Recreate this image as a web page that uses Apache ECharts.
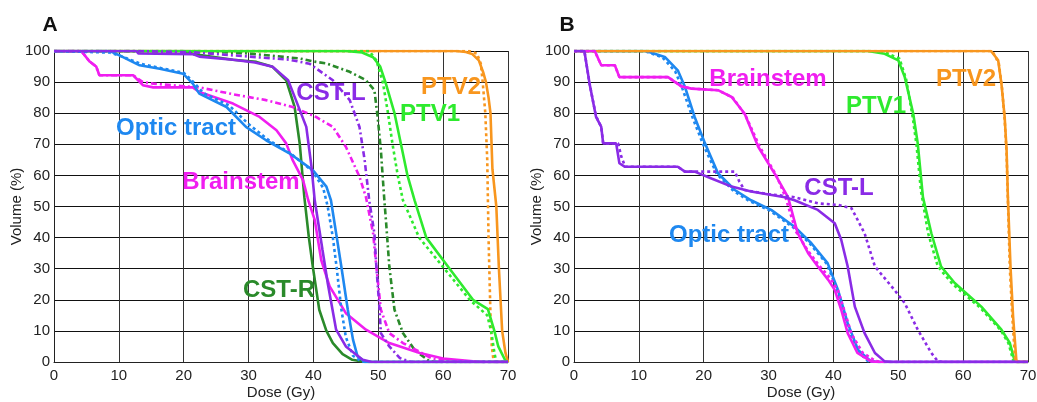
<!DOCTYPE html>
<html>
<head>
<meta charset="utf-8">
<script src="https://cdn.jsdelivr.net/npm/echarts@6/dist/echarts.min.js"></script>
<style>
  html, body { margin: 0; padding: 0; background: #fff; }
  #chart { width: 1037px; height: 402px; }
</style>
</head>
<body>
<div id="chart"></div>
<script>
// dose (Gy) / volume (%) pairs
const doseTicks = [0, 10, 20, 30, 40, 50, 60, 70]
const volumeTicks = [0, 10, 20, 30, 40, 50, 60, 70, 80, 90, 100]

// panel A
const aPtv2Solid = [[0,100],[62,100],[63.5,99.7],[64.5,99],[65.5,97],[66.2,93],[66.6,90],[67,85],[67.3,80],[67.6,62],[68.2,50],[68.6,30],[69.1,10],[69.6,3],[70,0]]
const aPtv2Dotted = [[0,100],[64,100],[65.2,99.2],[65.8,96],[66.1,90],[66.5,80],[66.8,65],[67,40],[67.3,15],[67.5,5],[67.8,0],[70,0]]
const aPtv1Solid = [[0,100],[45,100],[47.5,99.5],[49.2,98],[50.3,95],[51.1,90],[52.5,80],[53.5,70],[54.5,60],[55.6,52],[57.4,40],[61,30],[64.6,20],[66.9,17],[67.9,10],[68.5,5],[69.7,0],[70,0]]
const aPtv1Dotted = [[0,100],[48.6,100],[49.7,97],[50.7,90],[51.5,80],[52.2,70],[53,60],[53.8,52],[56.3,40],[60.2,30],[64.1,20],[66.8,15],[67.4,10],[67.9,3],[68.2,0],[70,0]]
const aCstrSolid = [[0,100],[20,100],[21.5,99],[27.6,97.2],[31.2,96.5],[33.7,94.9],[35.8,90.6],[37.1,82],[37.9,70],[38.6,53],[39.3,40],[39.9,30.7],[40.9,16.8],[42,10],[43,6.1],[44.5,2.5],[46,0.7],[48,0],[70,0]]
const aCstrDotted = [[0,100],[22,100],[30,99.2],[37.9,97.6],[40.4,96.5],[42,96],[45.6,93.3],[48.1,90.6],[49.4,87.4],[49.9,78.8],[50.4,68.1],[50.9,53],[51.2,45],[51.7,30.7],[52.5,16.8],[53.8,9.3],[55.6,3.9],[57.9,0.2],[59,0],[70,0]]
const aCstlSolid = [[0,100],[12.7,100],[13,99.2],[21.4,99],[22.4,98.2],[27.6,97.2],[31,96.3],[33.7,94.9],[36.1,90.6],[37.3,84.2],[38.9,75.6],[39.7,62.8],[40.2,52],[41.4,36],[42.2,25.4],[43.5,10.4],[45,5],[47.6,0.7],[49,0],[70,0]]
const aCstlDotted = [[0,100],[12.7,100],[13,99.6],[21.4,99.6],[27.6,98.6],[36.3,97.2],[39.4,95.9],[43,90.6],[45.6,84.2],[47.1,75.6],[47.9,64.9],[48.6,52],[49.4,41.4],[49.7,30.7],[50.2,16.8],[50.4,9.3],[51.7,5],[53.3,1.3],[55,0],[70,0]]
const aOpticSolid = [[0,100],[8.6,100],[10.1,98.6],[13.2,95.4],[16.3,94.3],[19.9,92.7],[21.4,89.5],[22.4,86.3],[26.6,82],[29.6,75.6],[32.7,71.3],[36.3,67.1],[39.9,61.7],[42,56.4],[42.7,52],[43.5,41.4],[44.3,30.7],[45.3,16.8],[46.1,7.2],[46.8,1.8],[48,0],[70,0]]
const aOpticDotted = [[0,100],[8.6,99.5],[10.5,98.2],[13.5,95.8],[16.5,94.5],[20,93],[21.6,89.8],[23,86.5],[27,82.5],[30,76.5],[33,71.5],[36.5,67],[39.8,61.5],[41.5,56],[42.2,50],[43,40],[43.6,30],[44.3,17],[45,8],[46.1,2],[47.5,0],[70,0]]
const aBrainSolid = [[0,100],[4.2,100],[5.5,96.6],[6.5,95],[7,92.2],[12.2,92.2],[13.7,89],[15.3,88.3],[21.4,88.3],[22.4,86.8],[27.6,83.1],[31.7,78.8],[34.3,74.5],[35.8,70.3],[36.8,64.9],[38.4,58.5],[39.2,52],[40.2,45.7],[41.2,32.8],[42.5,24.3],[45,15.7],[48.1,10.4],[51.7,6.1],[56.4,2.9],[60,1.1],[64.6,0.2],[66,0],[70,0]]
const aBrainDotted = [[0,100],[4.2,100],[5.5,96.6],[6.5,95],[7,92.2],[12.2,92.2],[13.7,90],[15.3,89.5],[22.4,88.3],[27.6,86.1],[32.7,84.2],[36.8,82],[40.4,78.8],[43,75.6],[45,69.2],[47.1,59.6],[48.1,53],[49.2,41.4],[49.7,30.7],[50.4,16.8],[51.7,9.3],[53.8,6.1],[55.8,3.9],[58.4,1],[62,0],[70,0]]

// panel B
const bPtv2Solid = [[0,100],[64.3,100],[65.4,97],[65.9,89.5],[66.4,78.8],[66.7,68.1],[66.9,53],[67.3,30.7],[67.7,14.6],[68.2,0.7],[68.4,0],[70,0]]
const bPtv2Dotted = [[0,100],[64.5,100],[65.5,96],[66,88],[66.4,78],[66.7,67],[66.9,52],[67.2,30],[67.6,14],[68,1],[68.2,0],[70,0]]
const bPtv1Solid = [[0,100],[45.3,100],[47.9,99.1],[50,97],[51,91.6],[52.3,79.9],[53,70.3],[53.8,53],[55.1,41.4],[56.6,30.7],[58.7,25.4],[62.8,17.8],[65.9,10.4],[67.2,6.1],[67.9,0.7],[68.2,0],[70,0]]
const bPtv1Dotted = [[0,100],[46,100],[48.3,99.3],[50.2,97.5],[51.2,91],[52.2,79],[52.8,70],[53.5,55],[54.6,41.4],[56.1,30.7],[58.4,25],[62.6,17.5],[65.8,10.2],[67,6],[67.7,0.7],[68,0],[70,0]]
const bBrainSolid = [[0,100],[3.2,100],[4.2,95.4],[6.3,95.4],[7,91.6],[14.5,91.6],[16.5,88.7],[18.1,87.9],[22.2,87.4],[24.3,85.2],[26.3,79.9],[28.4,69.2],[30.9,60.7],[33,53],[34.5,41.4],[36.1,35],[37.6,30.7],[39.2,26.4],[40.2,23.2],[41.2,16.8],[42.2,9.3],[43.7,2.9],[45.8,0.2],[47,0],[70,0]]
const bBrainDotted = [[0,100],[3.2,100],[4.2,95.4],[6.3,95.4],[7,91.6],[14.5,91.6],[16.5,88.7],[18.1,87.9],[22.2,87.4],[24.5,85],[26.5,79],[28.7,69],[31.2,60],[32.6,53],[34.2,42],[36,36],[37.8,31],[39.5,27],[40.7,23],[41.7,16.5],[42.8,9],[44.5,3],[46.5,0.3],[48,0],[70,0]]
const bOpticSolid = [[0,100],[11.1,100],[14,98.1],[16,93.8],[17.1,88.5],[18.6,78.8],[20.2,70.3],[22.2,60.7],[24.8,55.3],[27.3,52],[30.4,48.9],[34,43.5],[36.6,38.2],[39.1,31.8],[40.7,23.2],[42.2,12.5],[43.8,3.9],[45.8,0.2],[47,0],[70,0]]
const bOpticDotted = [[0,100],[10.8,100],[13.6,98],[15.6,93.5],[16.7,88],[18.3,78.5],[19.9,70],[22,60.5],[24.6,55],[27,51.8],[30.2,48.7],[33.8,43.3],[36.4,38],[39,31.5],[40.6,23],[42,12.5],[43.5,4],[45.3,0.3],[46.5,0],[70,0]]
const bCstlSolid = [[0,100],[1.6,100],[2.4,89.5],[3.4,78.8],[4.2,75.6],[4.5,70.3],[6.5,70.3],[7,63.9],[7.8,62.8],[16,62.8],[17.1,61.2],[18.6,61.2],[21.2,59],[24.3,56.4],[27.3,54.8],[32.5,53],[34,52],[37.6,48.9],[40.2,44.6],[41.2,39.3],[42.2,30.7],[43.3,17.8],[44.8,9.3],[46.4,2.9],[47.9,0.2],[49,0],[70,0]]
const bCstlDotted = [[0,100],[1.6,100],[2.4,89.5],[3.4,79],[4.2,75.6],[4.5,70.3],[6.8,70.3],[7.3,66],[7.9,62.8],[16,62.8],[17.1,61.2],[24.8,61.2],[25.5,58],[26.3,55.3],[30,54],[34,53],[37.6,51],[40.7,50.5],[42.8,49.4],[44.8,41.4],[46.4,30.7],[49.4,23.2],[51,18.9],[53,10.4],[55.1,2.9],[56.1,0.2],[57,0],[70,0]]

const colors = {
  ptv2: '#f8961e',
  ptv1: '#2eea2e',
  cstl: '#8a2be6',
  cstr: '#2a8a2a',
  brain: '#f01ef0',
  optic: '#1e88f0'
}

const DOT = [3, 3]
const DASHDOT = [6, 3, 2, 3]
const font = 'Liberation Sans, Arial, sans-serif'

function line(name, data, color, dash, idx) {
  return {
    name: name,
    type: 'line',
    xAxisIndex: idx,
    yAxisIndex: idx,
    data: data,
    showSymbol: false,
    symbol: 'none',
    silent: true,
    animation: false,
    lineStyle: { color: color, width: 2.6, type: dash || 'solid', cap: 'butt' }
  }
}

function xAxis(idx) {
  return {
    gridIndex: idx,
    type: 'value',
    min: 0,
    max: 70,
    interval: 10,
    name: 'Dose (Gy)',
    nameLocation: 'middle',
    nameGap: 23,
    nameMoveOverlap: false,
    nameTextStyle: { fontFamily: font, fontSize: 15, color: '#222' },
    axisLine: { show: true, lineStyle: { color: '#222', width: 1 } },
    axisTick: { show: false },
    axisLabel: { fontFamily: font, fontSize: 15, color: '#222', margin: 6 },
    splitLine: { show: true, lineStyle: { color: '#333', width: 1 } }
  }
}

function yAxis(idx) {
  return {
    gridIndex: idx,
    type: 'value',
    min: 0,
    max: 100,
    interval: 10,
    name: 'Volume (%)',
    nameLocation: 'middle',
    nameGap: 30,
    nameMoveOverlap: false,
    nameRotate: 90,
    nameTextStyle: { fontFamily: font, fontSize: 15, color: '#222' },
    axisLine: { show: true, lineStyle: { color: '#222', width: 1 } },
    axisTick: { show: false },
    axisLabel: { fontFamily: font, fontSize: 15, color: '#222', margin: 4 },
    splitLine: { show: true, lineStyle: { color: '#111', width: 1 } }
  }
}

function tag(text, x, y, color, size) {
  return {
    type: 'text',
    x: x,
    y: y,
    silent: true,
    z: 100,
    style: {
      text: text,
      fill: color,
      font: 'bold ' + (size || 24) + 'px ' + font,
      textAlign: 'center',
      textVerticalAlign: 'middle'
    }
  }
}

const chart = echarts.init(document.getElementById('chart'), null, { renderer: 'canvas' })

chart.setOption({
  backgroundColor: '#fff',
  animation: false,
  grid: [
    { left: 54, right: 529, top: 51, bottom: 40, containLabel: false, outerBoundsMode: 'none' },
    { left: 574, right: 9, top: 51, bottom: 40, containLabel: false, outerBoundsMode: 'none' }
  ],
  xAxis: [xAxis(0), xAxis(1)],
  yAxis: [yAxis(0), yAxis(1)],
  graphic: [
    tag('A', 50, 25, '#111', 21),
    tag('B', 567, 25, '#111', 21),
    tag('PTV2', 451, 87, colors.ptv2),
    tag('PTV1', 430, 114, colors.ptv1),
    tag('CST-L', 331, 93, colors.cstl),
    tag('Optic tract', 176, 128, colors.optic),
    tag('Brainstem', 241, 182, colors.brain),
    tag('CST-R', 279, 290, colors.cstr),
    tag('Brainstem', 768, 79, colors.brain),
    tag('PTV2', 966, 79, colors.ptv2),
    tag('PTV1', 876, 106, colors.ptv1),
    tag('CST-L', 839, 188, colors.cstl),
    tag('Optic tract', 729, 235, colors.optic)
  ],
  series: [
    // panel A, bottom to top
    line('PTV2', aPtv2Solid, colors.ptv2, null, 0),
    line('PTV2 dotted', aPtv2Dotted, colors.ptv2, DOT, 0),
    line('CST-R', aCstrSolid, colors.cstr, null, 0),
    line('CST-R dotted', aCstrDotted, colors.cstr, DASHDOT, 0),
    line('PTV1', aPtv1Solid, colors.ptv1, null, 0),
    line('PTV1 dotted', aPtv1Dotted, colors.ptv1, DOT, 0),
    line('Brainstem', aBrainSolid, colors.brain, null, 0),
    line('Brainstem dotted', aBrainDotted, colors.brain, DASHDOT, 0),
    line('Optic tract', aOpticSolid, colors.optic, null, 0),
    line('Optic tract dotted', aOpticDotted, colors.optic, DOT, 0),
    line('CST-L', aCstlSolid, colors.cstl, null, 0),
    line('CST-L dotted', aCstlDotted, colors.cstl, DASHDOT, 0),
    // panel B
    line('PTV1', bPtv1Solid, colors.ptv1, null, 1),
    line('PTV1 dotted', bPtv1Dotted, colors.ptv1, DOT, 1),
    line('Optic tract', bOpticSolid, colors.optic, null, 1),
    line('Optic tract dotted', bOpticDotted, colors.optic, DOT, 1),
    line('PTV2', bPtv2Solid, colors.ptv2, null, 1),
    line('PTV2 dotted', bPtv2Dotted, colors.ptv2, DOT, 1),
    line('Brainstem', bBrainSolid, colors.brain, null, 1),
    line('Brainstem dotted', bBrainDotted, colors.brain, DOT, 1),
    line('CST-L', bCstlSolid, colors.cstl, null, 1),
    line('CST-L dotted', bCstlDotted, colors.cstl, DOT, 1)
  ]
})
</script>
</body>
</html>
